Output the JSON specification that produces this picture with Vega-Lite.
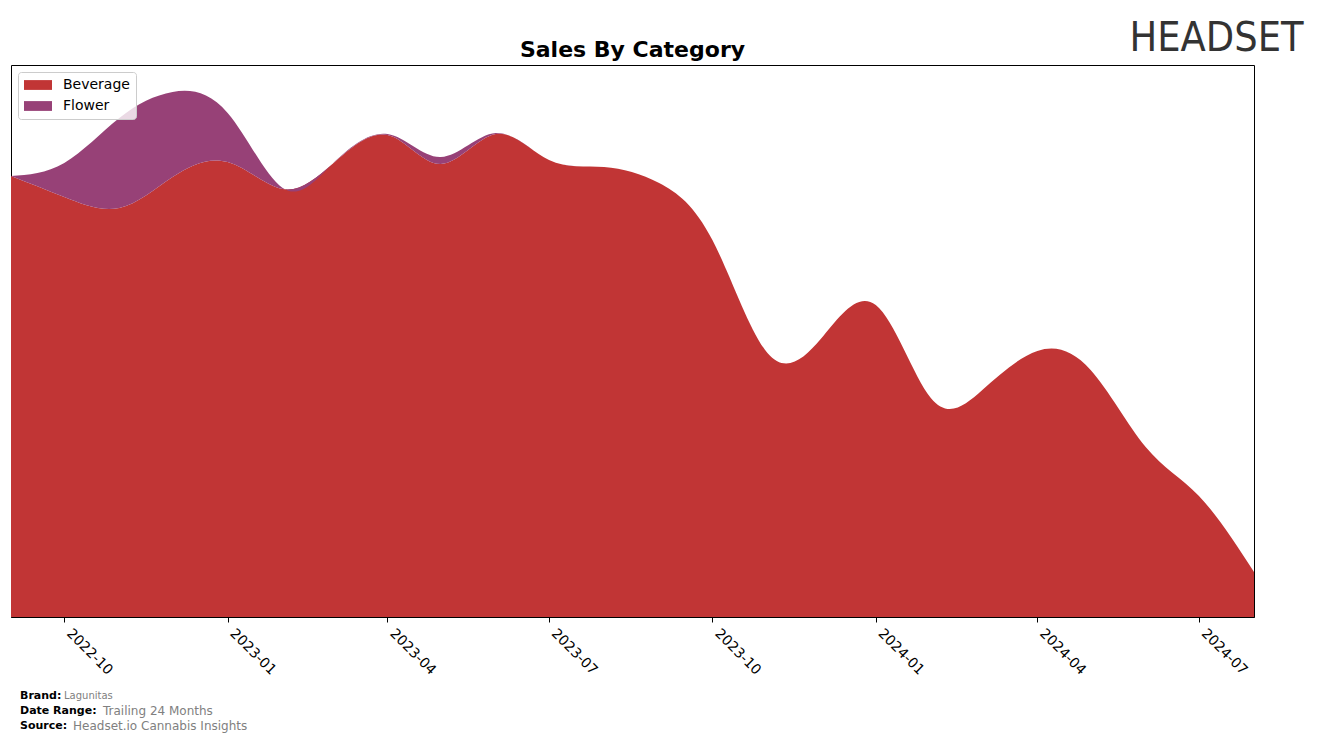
{
  "$schema": "https://vega.github.io/schema/vega-lite/v6.json",
  "padding": {"left": 10, "top": 17, "right": 10, "bottom": 5},
  "background": "white",
  "title": {"text": "HEADSET", "anchor": "end", "frame": "bounds", "font": "DejaVu Sans Condensed, Liberation Sans, sans-serif", "fontSize": 41, "fontWeight": "normal", "color": "#333333", "dx": 49, "dy": 53, "baseline": "alphabetic", "offset": 0},
  "config": {"view": {"stroke": "black", "strokeWidth": 1}, "font": "DejaVu Sans"},
  "spacing": 10,
  "vconcat": [
    {
      "width": 1243,
      "height": 552,
      "title": {"text": "Sales By Category", "anchor": "middle", "fontSize": 22, "fontWeight": "bold", "font": "DejaVu Sans", "color": "black", "offset": -14, "baseline": "alphabetic"},
      "data": {"values": [
        {"month": "2022-09-01", "category": "Beverage", "sales": 441},
        {"month": "2022-10-01", "category": "Beverage", "sales": 420},
        {"month": "2022-11-01", "category": "Beverage", "sales": 409},
        {"month": "2022-12-01", "category": "Beverage", "sales": 440},
        {"month": "2023-01-01", "category": "Beverage", "sales": 455},
        {"month": "2023-02-01", "category": "Beverage", "sales": 428},
        {"month": "2023-03-01", "category": "Beverage", "sales": 453},
        {"month": "2023-04-01", "category": "Beverage", "sales": 482},
        {"month": "2023-05-01", "category": "Beverage", "sales": 453},
        {"month": "2023-06-01", "category": "Beverage", "sales": 483},
        {"month": "2023-07-01", "category": "Beverage", "sales": 457},
        {"month": "2023-08-01", "category": "Beverage", "sales": 450},
        {"month": "2023-09-01", "category": "Beverage", "sales": 434},
        {"month": "2023-10-01", "category": "Beverage", "sales": 377},
        {"month": "2023-11-01", "category": "Beverage", "sales": 264},
        {"month": "2023-12-01", "category": "Beverage", "sales": 278},
        {"month": "2024-01-01", "category": "Beverage", "sales": 312},
        {"month": "2024-02-01", "category": "Beverage", "sales": 219},
        {"month": "2024-03-01", "category": "Beverage", "sales": 227},
        {"month": "2024-04-01", "category": "Beverage", "sales": 266},
        {"month": "2024-05-01", "category": "Beverage", "sales": 247},
        {"month": "2024-06-01", "category": "Beverage", "sales": 170},
        {"month": "2024-07-01", "category": "Beverage", "sales": 121},
        {"month": "2024-08-01", "category": "Beverage", "sales": 45},
        {"month": "2022-09-01", "category": "Flower", "sales": 0},
        {"month": "2022-10-01", "category": "Flower", "sales": 34},
        {"month": "2022-11-01", "category": "Flower", "sales": 90},
        {"month": "2022-12-01", "category": "Flower", "sales": 85},
        {"month": "2023-01-01", "category": "Flower", "sales": 49},
        {"month": "2023-02-01", "category": "Flower", "sales": 1},
        {"month": "2023-03-01", "category": "Flower", "sales": 0},
        {"month": "2023-04-01", "category": "Flower", "sales": 1},
        {"month": "2023-05-01", "category": "Flower", "sales": 7},
        {"month": "2023-06-01", "category": "Flower", "sales": 1},
        {"month": "2023-07-01", "category": "Flower", "sales": 0},
        {"month": "2023-08-01", "category": "Flower", "sales": 0},
        {"month": "2023-09-01", "category": "Flower", "sales": 0},
        {"month": "2023-10-01", "category": "Flower", "sales": 0},
        {"month": "2023-11-01", "category": "Flower", "sales": 0},
        {"month": "2023-12-01", "category": "Flower", "sales": 0},
        {"month": "2024-01-01", "category": "Flower", "sales": 0},
        {"month": "2024-02-01", "category": "Flower", "sales": 0},
        {"month": "2024-03-01", "category": "Flower", "sales": 0},
        {"month": "2024-04-01", "category": "Flower", "sales": 0},
        {"month": "2024-05-01", "category": "Flower", "sales": 0},
        {"month": "2024-06-01", "category": "Flower", "sales": 0},
        {"month": "2024-07-01", "category": "Flower", "sales": 0},
        {"month": "2024-08-01", "category": "Flower", "sales": 0}
      ]},
      "mark": {"type": "area", "interpolate": "natural"},
      "encoding": {
        "x": {
          "field": "month", "type": "temporal",
          "scale": {"type": "utc", "nice": false},
          "axis": {
            "title": null, "grid": false,
            "values": [
              {"year": 2022, "month": 10, "date": 1, "utc": true},
              {"year": 2023, "month": 1, "date": 1, "utc": true},
              {"year": 2023, "month": 4, "date": 1, "utc": true},
              {"year": 2023, "month": 7, "date": 1, "utc": true},
              {"year": 2023, "month": 10, "date": 1, "utc": true},
              {"year": 2024, "month": 1, "date": 1, "utc": true},
              {"year": 2024, "month": 4, "date": 1, "utc": true},
              {"year": 2024, "month": 7, "date": 1, "utc": true}
            ],
            "format": "%Y-%m",
            "labelAngle": 45, "labelAlign": "left", "labelBaseline": "top",
            "labelFontSize": 14, "labelFont": "DejaVu Sans", "labelColor": "black",
            "tickColor": "black", "tickSize": 5, "domainColor": "black",
            "labelPadding": 4, "labelOffset": 9, "labelOverlap": false, "labelBound": false, "labelFlush": false
          }
        },
        "y": {"field": "sales", "type": "quantitative", "stack": "zero", "scale": {"domain": [0, 552], "nice": false}, "axis": null},
        "order": {"field": "category", "sort": "ascending"},
        "color": {
          "field": "category", "type": "nominal",
          "scale": {"domain": ["Beverage", "Flower"], "range": ["#c13535", "#974177"]},
          "legend": {
            "title": null, "orient": "top-left", "offset": 7, "padding": 6,
            "fillColor": "rgba(255,255,255,0.8)", "strokeColor": "#cccccc", "cornerRadius": 3,
            "symbolType": "M-1,-0.7H3V0.7H-1Z", "symbolSize": 196, "symbolStrokeWidth": 0, "symbolOpacity": 1,
            "labelFontSize": 14, "labelFont": "DejaVu Sans", "labelColor": "black", "labelOffset": 25, "rowPadding": 7
          }
        }
      }
    },
    {
      "width": 18,
      "height": 45,
      "view": {"stroke": null},
      "data": {"values": [
        {"key": "Brand:", "value": "Lagunitas"},
        {"key": "Date Range:", "value": "Trailing 24 Months"},
        {"key": "Source:", "value": "Headset.io Cannabis Insights"}
      ]},
      "encoding": {"y": {"field": "key", "type": "nominal", "sort": ["Brand:", "Date Range:", "Source:"], "axis": null}},
      "layer": [
        {"mark": {"type": "text", "align": "left", "baseline": "middle", "fontWeight": "bold", "fontSize": 11, "color": "black", "font": "DejaVu Sans"}, "encoding": {"text": {"field": "key"}}},
        {"transform": [{"filter": "datum.key === 'Brand:'"}], "mark": {"type": "text", "align": "left", "baseline": "middle", "dx": 44, "fontSize": 10, "color": "#808080", "font": "DejaVu Sans"}, "encoding": {"text": {"field": "value"}}},
        {"transform": [{"filter": "datum.key === 'Date Range:'"}], "mark": {"type": "text", "align": "left", "baseline": "middle", "dx": 83, "fontSize": 12, "color": "#808080", "font": "DejaVu Sans"}, "encoding": {"text": {"field": "value"}}},
        {"transform": [{"filter": "datum.key === 'Source:'"}], "mark": {"type": "text", "align": "left", "baseline": "middle", "dx": 53, "fontSize": 12, "color": "#808080", "font": "DejaVu Sans"}, "encoding": {"text": {"field": "value"}}}
      ]
    }
  ]
}
